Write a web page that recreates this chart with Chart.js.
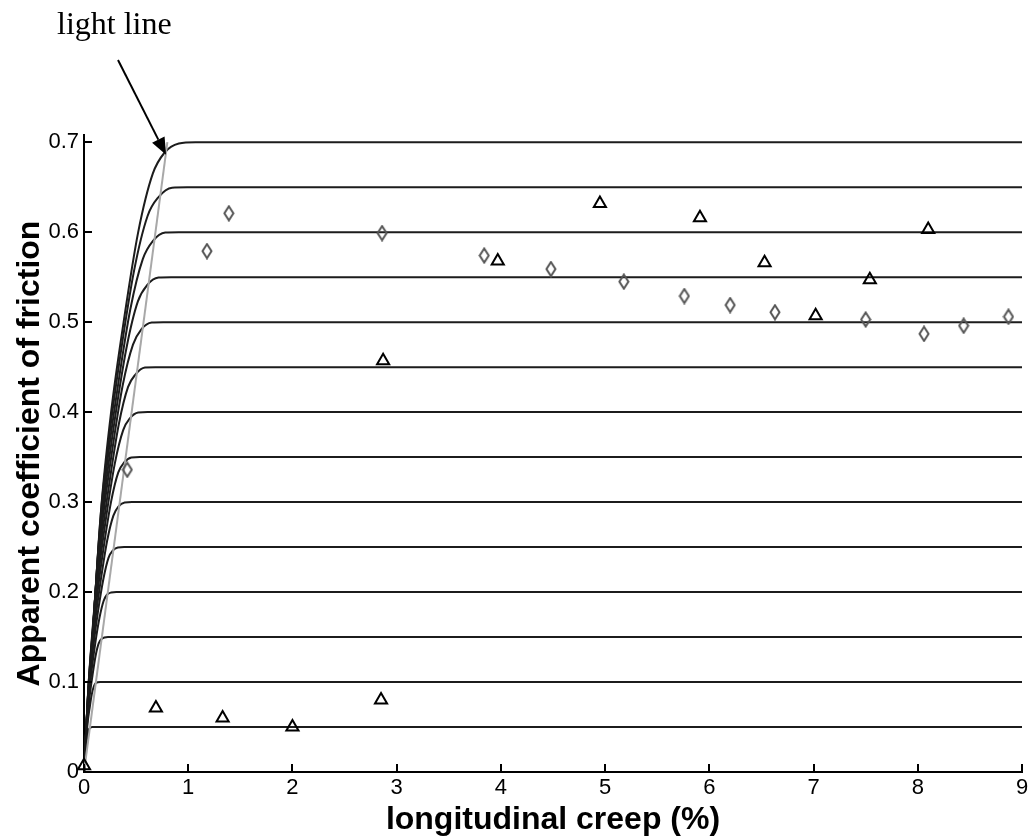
<!DOCTYPE html>
<html>
<head>
<meta charset="utf-8">
<script src="https://cdn.jsdelivr.net/npm/chart.js@4.4.1/dist/chart.umd.min.js"></script>
<style>
html,body{margin:0;padding:0;background:#fff;}
</style>
</head>
<body>
<canvas id="creep_chart" width="1035" height="840"></canvas>
<script>
// tick labels
var xTicks = [0, 1, 2, 3, 4, 5, 6, 7, 8, 9];
var yTicks = [0, 0.1, 0.2, 0.3, 0.4, 0.5, 0.6, 0.7];

// saturation curves, [creep %, friction]
var curve_005 = [[0,0],[0.012,0.021],[0.027,0.036],[0.047,0.0475],[0.078,0.05],[9,0.05]];
var curve_010 = [[0,0],[0.016,0.029],[0.037,0.057],[0.054,0.071],[0.074,0.086],[0.094,0.095],[0.115,0.099],[0.155,0.1],[9,0.1]];
var curve_015 = [[0,0],[0.024,0.043],[0.036,0.064],[0.056,0.086],[0.081,0.107],[0.111,0.129],[0.141,0.143],[0.17,0.148],[0.23,0.15],[9,0.15]];
var curve_020 = [[0,0],[0.013,0.029],[0.031,0.057],[0.048,0.086],[0.074,0.114],[0.108,0.143],[0.148,0.171],[0.188,0.19],[0.22,0.197],[0.26,0.1995],[0.31,0.2],[9,0.2]];
var curve_025 = [[0,0],[0.016,0.036],[0.039,0.072],[0.06,0.108],[0.093,0.143],[0.135,0.179],[0.185,0.214],[0.235,0.238],[0.275,0.246],[0.325,0.2495],[0.385,0.25],[9,0.25]];
var curve_030 = [[0,0],[0.019,0.043],[0.047,0.086],[0.072,0.129],[0.111,0.171],[0.162,0.214],[0.222,0.257],[0.282,0.285],[0.33,0.295],[0.39,0.2995],[0.46,0.3],[9,0.3]];
var curve_035 = [[0,0],[0.022,0.05],[0.055,0.1],[0.084,0.151],[0.13,0.2],[0.189,0.25],[0.259,0.3],[0.329,0.333],[0.385,0.344],[0.455,0.3495],[0.535,0.35],[9,0.35]];
var curve_040 = [[0,0],[0.026,0.057],[0.063,0.114],[0.096,0.172],[0.148,0.228],[0.216,0.286],[0.296,0.343],[0.376,0.38],[0.44,0.393],[0.52,0.3995],[0.61,0.4],[9,0.4]];
var curve_045 = [[0,0],[0.029,0.064],[0.071,0.129],[0.108,0.194],[0.167,0.257],[0.243,0.321],[0.333,0.386],[0.423,0.428],[0.495,0.442],[0.585,0.4495],[0.685,0.45],[9,0.45]];
var curve_050 = [[0,0],[0.032,0.072],[0.079,0.143],[0.12,0.215],[0.185,0.286],[0.27,0.357],[0.37,0.429],[0.47,0.475],[0.55,0.492],[0.65,0.4995],[0.76,0.5],[9,0.5]];
var curve_055 = [[0,0],[0.035,0.079],[0.086,0.157],[0.132,0.237],[0.204,0.314],[0.297,0.393],[0.407,0.471],[0.517,0.523],[0.605,0.541],[0.715,0.5495],[0.835,0.55],[9,0.55]];
var curve_060 = [[0,0],[0.038,0.086],[0.094,0.172],[0.144,0.258],[0.222,0.343],[0.324,0.428],[0.444,0.514],[0.564,0.57],[0.66,0.59],[0.78,0.5995],[0.91,0.6],[9,0.6]];
var curve_065 = [[0,0],[0.042,0.093],[0.102,0.186],[0.156,0.28],[0.24,0.371],[0.35,0.464],[0.48,0.557],[0.61,0.618],[0.715,0.639],[0.845,0.6495],[0.99,0.65],[9,0.65]];
var curve_070 = [[0,0],[0.045,0.1],[0.11,0.2],[0.17,0.3],[0.26,0.4],[0.38,0.5],[0.52,0.6],[0.66,0.665],[0.77,0.688],[0.91,0.6985],[1.07,0.7],[9,0.7]];

// the light line
var lightX = [0, 0.8];
var lightY = [0, 0.7];

// measured points, triangles
var triX = [0, 0.69, 1.33, 2.0, 2.85, 2.87, 3.97, 4.95, 5.91, 6.53, 7.02, 7.54, 8.1];
var triY = [0.007, 0.071, 0.06, 0.05, 0.08, 0.457, 0.568, 0.632, 0.616, 0.566, 0.507, 0.547, 0.603];
// measured points, diamonds
var diaX = [0.415, 1.18, 1.39, 2.86, 3.84, 4.48, 5.18, 5.76, 6.2, 6.63, 7.5, 8.06, 8.44, 8.87];
var diaY = [0.336, 0.579, 0.621, 0.599, 0.574, 0.559, 0.545, 0.529, 0.519, 0.511, 0.503, 0.487, 0.496, 0.506];

// arrow tip (data) for the "light line" note
var arrowTip = [0.787, 0.686];

var curves = [curve_005, curve_010, curve_015, curve_020, curve_025, curve_030, curve_035,
              curve_040, curve_045, curve_050, curve_055, curve_060, curve_065, curve_070];

function toPts(xs, ys) {
  var out = [];
  for (var i = 0; i < xs.length; i++) out.push({x: xs[i], y: ys[i]});
  return out;
}

// tall diamond marker
var diamond = document.createElement('canvas');
diamond.width = 12; diamond.height = 17;
(function () {
  var c = diamond.getContext('2d');
  c.strokeStyle = '#555';
  c.lineWidth = 2;
  c.beginPath();
  c.moveTo(6, 1.5); c.lineTo(10.5, 8.5); c.lineTo(6, 15.5); c.lineTo(1.5, 8.5);
  c.closePath();
  c.stroke();
})();

var datasets = [];
datasets.push({
  label: 'triangles', data: toPts(triX, triY), showLine: false,
  pointStyle: 'triangle', pointRadius: 7, pointBorderWidth: 2,
  pointBorderColor: '#000', pointBackgroundColor: 'rgba(255,255,255,0)',
  order: 0, clip: false
});
datasets.push({
  label: 'diamonds', data: toPts(diaX, diaY), showLine: false,
  pointStyle: diamond, pointRadius: 7,
  order: 0, clip: false
});
datasets.push({
  label: 'light line', data: toPts(lightX, lightY), showLine: true,
  borderColor: '#a8a8a8', borderWidth: 2, pointRadius: 0, order: 1
});
for (var k = 0; k < curves.length; k++) {
  datasets.push({
    label: 'curve ' + k,
    data: curves[k].map(function (p) { return {x: p[0], y: p[1]}; }),
    showLine: true, borderColor: '#1c1c1c', borderWidth: 2, pointRadius: 0,
    cubicInterpolationMode: 'monotone', order: 2
  });
}

var extras = {
  id: 'extras',
  afterDraw: function (chart) {
    var ctx = chart.ctx;
    var xs = chart.scales.x, ys = chart.scales.y, area = chart.chartArea;
    ctx.save();
    // inward tick marks
    ctx.strokeStyle = '#000';
    ctx.lineWidth = 2;
    ctx.beginPath();
    xTicks.forEach(function (v) {
      var px = Math.round(xs.getPixelForValue(v));
      ctx.moveTo(px, area.bottom); ctx.lineTo(px, area.bottom - 8);
    });
    yTicks.forEach(function (v) {
      var py = Math.round(ys.getPixelForValue(v));
      ctx.moveTo(area.left, py); ctx.lineTo(area.left + 8, py);
    });
    ctx.stroke();

    // note + arrow
    var tx = xs.getPixelForValue(arrowTip[0]), ty = ys.getPixelForValue(arrowTip[1]);
    var sx = 118, sy = 60;
    var ang = Math.atan2(ty - sy, tx - sx);
    var hl = 17, hw = 7;
    var bx = tx - hl * Math.cos(ang), by = ty - hl * Math.sin(ang);
    ctx.lineWidth = 2;
    ctx.beginPath();
    ctx.moveTo(sx, sy); ctx.lineTo(bx, by);
    ctx.stroke();
    ctx.fillStyle = '#000';
    ctx.beginPath();
    ctx.moveTo(tx, ty);
    ctx.lineTo(bx + hw * Math.sin(ang), by - hw * Math.cos(ang));
    ctx.lineTo(bx - hw * Math.sin(ang), by + hw * Math.cos(ang));
    ctx.closePath();
    ctx.fill();

    ctx.font = '32px "Liberation Serif", "Times New Roman", serif';
    ctx.textBaseline = 'alphabetic';
    ctx.textAlign = 'left';
    ctx.fillText('light line', 57, 34);
    ctx.restore();
  }
};

var tickFont = {family: '"Liberation Sans", Arial, sans-serif', size: 22};
var titleFont = {family: '"Liberation Sans", Arial, sans-serif', size: 32, weight: 'bold'};

var creepChart = new Chart(document.getElementById('creep_chart').getContext('2d'), {
  type: 'scatter',
  data: {datasets: datasets},
  plugins: [extras],
  options: {
    responsive: false,
    animation: false,
    events: [],
    layout: {padding: {left: 0, top: 135, right: 13, bottom: 0}},
    plugins: {legend: {display: false}, tooltip: {enabled: false}},
    scales: {
      x: {
        type: 'linear', min: 0, max: 9,
        afterBuildTicks: function (s) { s.ticks = xTicks.map(function (v) { return {value: v}; }); },
        afterFit: function (s) { s.height = 68; },
        grid: {display: false, drawTicks: false},
        border: {display: true, color: '#000', width: 2},
        ticks: {color: '#000', font: tickFont, padding: 3, maxRotation: 0,
                callback: function (v) { return String(v); }},
        title: {display: true, text: 'longitudinal creep (%)', color: '#000', font: titleFont,
                padding: {top: 0, bottom: 1}}
      },
      y: {
        type: 'linear', min: 0, max: 0.708,
        afterBuildTicks: function (s) { s.ticks = yTicks.map(function (v) { return {value: v}; }); },
        afterFit: function (s) { s.width = 84; },
        grid: {display: false, drawTicks: false},
        border: {display: true, color: '#000', width: 2},
        ticks: {color: '#000', font: tickFont, padding: 5,
                callback: function (v) { return v === 0 ? '0' : v.toFixed(1); }},
        title: {display: true, text: 'Apparent coefficient of friction', color: '#000', font: titleFont,
                padding: {top: 11, bottom: 0}}
      }
    }
  }
});
</script>
</body>
</html>
